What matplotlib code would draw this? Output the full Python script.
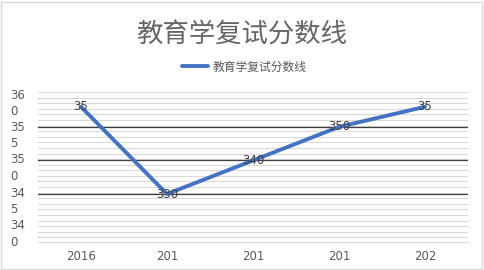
import matplotlib
matplotlib.use("Agg")
import matplotlib.pyplot as plt
from matplotlib.patches import Rectangle
import numpy as np

plt.rcParams['font.family'] = ['Noto Sans CJK SC', 'DejaVu Sans']

categories = ["2016", "201", "201", "201", "202"]
values = [356, 330, 340, 350, 356]
point_labels = ["35", "330", "340", "350", "35"]
ytick_values = [358, 348.4, 338.7, 328.8, 319]
ytick_labels = ["36\n0", "35\n5", "35\n0", "34\n5", "34\n0"]
major_grid = [330, 340, 350]
title = "教育学复试分数线"

W, H = 484, 270
fig = plt.figure(figsize=(W / 100, H / 100), dpi=100)
ax = fig.add_axes([38 / W, 1 - 242 / H, (468 - 38) / W, (242 - 92) / H])

x = np.arange(len(categories))
ax.set_xlim(-0.5, len(categories) - 0.5)
ax.set_ylim(315.7, 360.4)

# minor light gridlines
for v in np.arange(360.4, 315.7, -10 / 6):
    ax.axhline(v, color="#d9d9d9", lw=0.8, zorder=0)
for v in major_grid:
    ax.axhline(v, color="#404040", lw=0.9, zorder=1)

ax.plot(x, values, color="#4472C4", lw=2.8, solid_capstyle="round", zorder=3,
        label=title)
for xi, v, lab in zip(x, values, point_labels):
    ax.text(xi, v, lab, ha="center", va="center", fontsize=8.5, color="#404040",
            family="DejaVu Sans", zorder=4)

ax.set_xticks(x)
ax.set_xticklabels(categories, fontsize=8.5, color="#595959", family="DejaVu Sans")
ax.set_yticks(ytick_values)
ax.set_yticklabels(ytick_labels, fontsize=8.5, color="#595959", family="DejaVu Sans",
                   linespacing=1.35)
ax.tick_params(axis="both", length=0, pad=6)
ax.tick_params(axis="y", pad=20)
for lab in ax.get_yticklabels():
    lab.set_horizontalalignment("left")
for s in ["top", "right", "left"]:
    ax.spines[s].set_visible(False)
ax.spines["bottom"].set_color("#d9d9d9")

fig.text(242 / W, 1 - 35 / H, title, ha="center", va="center", fontsize=19,
         color="#666666")
leg = fig.legend(loc="center", bbox_to_anchor=(244 / W, 1 - 67 / H), frameon=False,
                 fontsize=8.5, handlelength=2.2, handletextpad=0.4,
                 labelcolor="#595959")

fig.patches.append(Rectangle((1 / W, 1 / H), (W - 3) / W, (H - 3) / H,
                             transform=fig.transFigure, fill=False,
                             edgecolor="#d9d9d9", lw=1))

fig.savefig("out.png", dpi=100)
